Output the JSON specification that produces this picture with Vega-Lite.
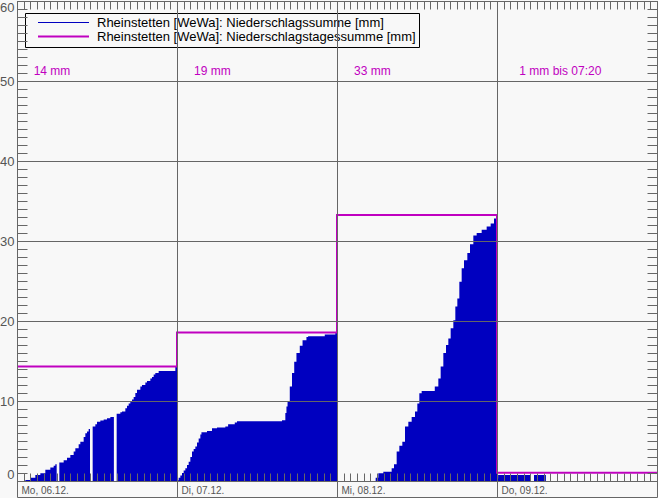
{
  "$schema": "https://vega.github.io/schema/vega-lite/v6.json",
  "width": 640,
  "height": 480,
  "autosize": {"type": "none"},
  "padding": {"left": 17, "top": 1, "right": 1, "bottom": 17},
  "background": "#f8f8f8",
  "config": {
    "view": {"stroke": "#666666", "strokeWidth": 1, "fill": "#f8f8f8"},
    "axis": {"domainColor": "#666666", "tickColor": "#666666", "gridColor": "#666666", "gridOpacity": 1, "gridWidth": 1, "tickWidth": 1, "domainWidth": 1, "title": null, "labelFont": "Liberation Sans", "labelColor": "#555555"},
    "text": {"font": "Liberation Sans"}
  },
  "datasets": {
    "rain": [
      {"t": "2021-12-06T00:00:00Z", "v": 0},
      {"t": "2021-12-06T01:15:00Z", "v": 0.12},
      {"t": "2021-12-06T02:00:00Z", "v": 0.42},
      {"t": "2021-12-06T02:45:00Z", "v": 0.75},
      {"t": "2021-12-06T03:30:00Z", "v": 0.96},
      {"t": "2021-12-06T04:15:00Z", "v": 1.4},
      {"t": "2021-12-06T05:00:00Z", "v": 1.7},
      {"t": "2021-12-06T05:30:00Z", "v": 1.9},
      {"t": "2021-12-06T05:45:00Z", "v": 2.1},
      {"t": "2021-12-06T05:57:00Z", "v": 2.1},
      {"t": "2021-12-06T05:58:00Z", "v": null},
      {"t": "2021-12-06T06:21:00Z", "v": 2.3},
      {"t": "2021-12-06T07:00:00Z", "v": 2.6},
      {"t": "2021-12-06T07:30:00Z", "v": 2.9},
      {"t": "2021-12-06T08:00:00Z", "v": 3.25},
      {"t": "2021-12-06T08:30:00Z", "v": 3.7},
      {"t": "2021-12-06T08:45:00Z", "v": 4.1},
      {"t": "2021-12-06T09:15:00Z", "v": 4.6},
      {"t": "2021-12-06T09:30:00Z", "v": 4.9},
      {"t": "2021-12-06T10:00:00Z", "v": 5.5},
      {"t": "2021-12-06T10:15:00Z", "v": 5.96},
      {"t": "2021-12-06T10:30:00Z", "v": 6.2},
      {"t": "2021-12-06T10:45:00Z", "v": 6.5},
      {"t": "2021-12-06T10:57:00Z", "v": 6.5},
      {"t": "2021-12-06T10:58:00Z", "v": null},
      {"t": "2021-12-06T11:21:00Z", "v": 6.8},
      {"t": "2021-12-06T11:45:00Z", "v": 7.1},
      {"t": "2021-12-06T12:00:00Z", "v": 7.4},
      {"t": "2021-12-06T12:30:00Z", "v": 7.55},
      {"t": "2021-12-06T13:00:00Z", "v": 7.7},
      {"t": "2021-12-06T13:30:00Z", "v": 7.85},
      {"t": "2021-12-06T14:00:00Z", "v": 8.0},
      {"t": "2021-12-06T14:32:00Z", "v": 8.1},
      {"t": "2021-12-06T14:33:00Z", "v": null},
      {"t": "2021-12-06T14:57:00Z", "v": 8.4},
      {"t": "2021-12-06T15:30:00Z", "v": 8.6},
      {"t": "2021-12-06T15:45:00Z", "v": 8.7},
      {"t": "2021-12-06T16:15:00Z", "v": 9.1},
      {"t": "2021-12-06T16:30:00Z", "v": 9.4},
      {"t": "2021-12-06T16:45:00Z", "v": 9.7},
      {"t": "2021-12-06T17:00:00Z", "v": 9.9},
      {"t": "2021-12-06T17:15:00Z", "v": 10.2},
      {"t": "2021-12-06T17:30:00Z", "v": 10.5},
      {"t": "2021-12-06T17:45:00Z", "v": 11.0},
      {"t": "2021-12-06T18:00:00Z", "v": 11.4},
      {"t": "2021-12-06T18:30:00Z", "v": 11.8},
      {"t": "2021-12-06T18:45:00Z", "v": 12.0},
      {"t": "2021-12-06T19:15:00Z", "v": 12.3},
      {"t": "2021-12-06T19:30:00Z", "v": 12.5},
      {"t": "2021-12-06T20:00:00Z", "v": 12.8},
      {"t": "2021-12-06T20:15:00Z", "v": 13.0},
      {"t": "2021-12-06T20:30:00Z", "v": 13.3},
      {"t": "2021-12-06T20:45:00Z", "v": 13.5},
      {"t": "2021-12-06T21:15:00Z", "v": 13.75},
      {"t": "2021-12-06T23:45:00Z", "v": 14.3},
      {"t": "2021-12-06T23:59:00Z", "v": 14.3},
      {"t": "2021-12-07T00:00:00Z", "v": 0.1},
      {"t": "2021-12-07T00:15:00Z", "v": 0.4},
      {"t": "2021-12-07T00:30:00Z", "v": 0.7},
      {"t": "2021-12-07T00:45:00Z", "v": 1.0},
      {"t": "2021-12-07T01:00:00Z", "v": 1.3},
      {"t": "2021-12-07T01:15:00Z", "v": 1.6},
      {"t": "2021-12-07T01:30:00Z", "v": 2.0},
      {"t": "2021-12-07T01:45:00Z", "v": 2.4},
      {"t": "2021-12-07T02:00:00Z", "v": 3.0},
      {"t": "2021-12-07T02:15:00Z", "v": 3.7},
      {"t": "2021-12-07T02:30:00Z", "v": 4.0},
      {"t": "2021-12-07T02:45:00Z", "v": 4.3},
      {"t": "2021-12-07T03:00:00Z", "v": 4.8},
      {"t": "2021-12-07T03:15:00Z", "v": 5.3},
      {"t": "2021-12-07T03:30:00Z", "v": 5.8},
      {"t": "2021-12-07T03:40:00Z", "v": 6.1},
      {"t": "2021-12-07T04:30:00Z", "v": 6.25},
      {"t": "2021-12-07T05:15:00Z", "v": 6.6},
      {"t": "2021-12-07T06:00:00Z", "v": 6.7},
      {"t": "2021-12-07T07:15:00Z", "v": 6.8},
      {"t": "2021-12-07T07:40:00Z", "v": 7.1},
      {"t": "2021-12-07T08:40:00Z", "v": 7.3},
      {"t": "2021-12-07T09:00:00Z", "v": 7.46},
      {"t": "2021-12-07T15:45:00Z", "v": 7.6},
      {"t": "2021-12-07T16:15:00Z", "v": 8.5},
      {"t": "2021-12-07T16:25:00Z", "v": 9.3},
      {"t": "2021-12-07T16:35:00Z", "v": 10.0},
      {"t": "2021-12-07T16:55:00Z", "v": 11.8},
      {"t": "2021-12-07T17:15:00Z", "v": 13.5},
      {"t": "2021-12-07T17:35:00Z", "v": 14.9},
      {"t": "2021-12-07T17:55:00Z", "v": 16.0},
      {"t": "2021-12-07T18:25:00Z", "v": 16.9},
      {"t": "2021-12-07T18:50:00Z", "v": 17.6},
      {"t": "2021-12-07T19:25:00Z", "v": 18.0},
      {"t": "2021-12-07T19:40:00Z", "v": 18.1},
      {"t": "2021-12-07T22:10:00Z", "v": 18.3},
      {"t": "2021-12-07T23:45:00Z", "v": 18.5},
      {"t": "2021-12-07T23:59:00Z", "v": 18.5},
      {"t": "2021-12-08T00:00:00Z", "v": 0},
      {"t": "2021-12-08T05:48:00Z", "v": 0.42},
      {"t": "2021-12-08T06:12:00Z", "v": 0.96},
      {"t": "2021-12-08T06:57:00Z", "v": 1.17},
      {"t": "2021-12-08T08:12:00Z", "v": 1.6},
      {"t": "2021-12-08T08:33:00Z", "v": 2.1},
      {"t": "2021-12-08T08:57:00Z", "v": 3.7},
      {"t": "2021-12-08T09:21:00Z", "v": 4.4},
      {"t": "2021-12-08T09:48:00Z", "v": 4.9},
      {"t": "2021-12-08T10:12:00Z", "v": 6.8},
      {"t": "2021-12-08T10:42:00Z", "v": 7.4},
      {"t": "2021-12-08T11:12:00Z", "v": 8.0},
      {"t": "2021-12-08T11:42:00Z", "v": 8.7},
      {"t": "2021-12-08T12:03:00Z", "v": 9.7},
      {"t": "2021-12-08T12:21:00Z", "v": 10.96},
      {"t": "2021-12-08T12:42:00Z", "v": 11.25},
      {"t": "2021-12-08T14:40:00Z", "v": 11.8},
      {"t": "2021-12-08T15:12:00Z", "v": 12.8},
      {"t": "2021-12-08T15:33:00Z", "v": 14.3},
      {"t": "2021-12-08T15:57:00Z", "v": 16.0},
      {"t": "2021-12-08T16:21:00Z", "v": 17.0},
      {"t": "2021-12-08T16:42:00Z", "v": 17.8},
      {"t": "2021-12-08T17:03:00Z", "v": 19.1},
      {"t": "2021-12-08T17:27:00Z", "v": 20.1},
      {"t": "2021-12-08T17:45:00Z", "v": 21.8},
      {"t": "2021-12-08T18:03:00Z", "v": 22.8},
      {"t": "2021-12-08T18:21:00Z", "v": 24.9},
      {"t": "2021-12-08T18:42:00Z", "v": 26.6},
      {"t": "2021-12-08T19:03:00Z", "v": 27.6},
      {"t": "2021-12-08T19:33:00Z", "v": 28.5},
      {"t": "2021-12-08T19:57:00Z", "v": 29.6},
      {"t": "2021-12-08T20:27:00Z", "v": 30.7},
      {"t": "2021-12-08T20:57:00Z", "v": 31.0},
      {"t": "2021-12-08T21:42:00Z", "v": 31.4},
      {"t": "2021-12-08T22:27:00Z", "v": 31.8},
      {"t": "2021-12-08T23:03:00Z", "v": 32.2},
      {"t": "2021-12-08T23:33:00Z", "v": 32.8},
      {"t": "2021-12-08T23:51:00Z", "v": 33.0},
      {"t": "2021-12-08T23:59:00Z", "v": 33.2},
      {"t": "2021-12-09T00:00:00Z", "v": 0.3},
      {"t": "2021-12-09T00:10:00Z", "v": 0.75},
      {"t": "2021-12-09T04:57:00Z", "v": 0.75},
      {"t": "2021-12-09T04:58:00Z", "v": null},
      {"t": "2021-12-09T05:33:00Z", "v": 0.75},
      {"t": "2021-12-09T07:20:00Z", "v": 0.75}
    ],
    "daily": [
      {"t": "2021-12-06T00:00:00Z", "v": 14.3},
      {"t": "2021-12-07T00:00:00Z", "v": 18.55},
      {"t": "2021-12-08T00:00:00Z", "v": 33.25},
      {"t": "2021-12-09T00:00:00Z", "v": 1.04},
      {"t": "2021-12-10T00:00:00Z", "v": 1.04}
    ],
    "notes": [
      {"t": "2021-12-06T02:30:00Z", "v": 51.3, "label": "14 mm"},
      {"t": "2021-12-07T02:33:00Z", "v": 51.3, "label": "19 mm"},
      {"t": "2021-12-08T02:33:00Z", "v": 51.3, "label": "33 mm"},
      {"t": "2021-12-09T03:21:00Z", "v": 51.3, "label": "1 mm bis 07:20"}
    ]
  },
  "resolve": {"axis": {"x": "independent", "y": "independent"}},
  "layer": [
    {
      "data": {"name": "rain"},
      "mark": {"type": "area", "interpolate": "step-after", "invalid": "break-paths-filter-domains"},
      "encoding": {
        "x": {"field": "t", "type": "temporal",
          "scale": {"type": "utc", "domain": [1638748800000, 1639094400000], "nice": false},
          "axis": {"orient": "bottom", "zindex": 1, "grid": true, "ticks": true, "tickSize": 16, "domain": false,
            "values": [1638748800000, 1638835200000, 1638921600000, 1639008000000, 1639094400000],
            "labelExpr": "utcdate(datum.value) == 10 ? '' : ['So','Mo','Di','Mi','Do','Fr','Sa'][utcday(datum.value)] + ', ' + utcFormat(datum.value, '%d.%m.')",
            "labelAlign": "left", "labelBaseline": "top", "labelPadding": -12, "labelOffset": 4, "labelFontSize": 10, "labelFlush": false, "labelOverlap": false, "labelBound": false}},
        "y": {"field": "v", "type": "quantitative",
          "scale": {"domain": [0, 60], "nice": false, "zero": true},
          "axis": {"orient": "left", "zindex": 1, "grid": true, "ticks": false, "domain": true, "values": [0, 10, 20, 30, 40, 50, 60], "labelFlush": true, "labelPadding": 3, "labelFontSize": 13, "labelOverlap": false}},
        "color": {"datum": "Rheinstetten [WeWa]: Niederschlagssumme [mm]", "type": "nominal",
          "scale": {"domain": ["Rheinstetten [WeWa]: Niederschlagssumme [mm]", "Rheinstetten [WeWa]: Niederschlagstagessumme [mm]"], "range": ["#0000c0", "#c000c0"]},
          "legend": {"orient": "none", "legendX": 8, "legendY": 12, "title": null, "direction": "vertical",
            "strokeColor": "#000000", "padding": 3,
            "symbolType": "M-5.1,0H5.1", "symbolSize": 100, "symbolStrokeWidth": 2, "symbolOffset": 29,
            "labelOffset": 27, "labelFont": "Liberation Sans", "labelFontSize": 13, "labelColor": "#000000", "labelLimit": 0, "rowPadding": -5,
            "encode": {"symbols": {"update": {"stroke": {"scale": "color", "field": "value"}, "fill": {"value": "transparent"}, "strokeWidth": {"signal": "datum.index ? 2 : 1"}}}}}}
      }
    },
    {
      "data": {"name": "daily"},
      "mark": {"type": "line", "interpolate": "step-after", "strokeWidth": 2},
      "encoding": {
        "x": {"field": "t", "type": "temporal",
          "axis": {"orient": "bottom", "zindex": 1, "grid": false, "domain": false, "labels": false, "ticks": true, "tickSize": -8,
            "values": [1638748800000,1638752400000,1638756000000,1638759600000,1638763200000,1638766800000,1638770400000,1638774000000,1638777600000,1638781200000,1638784800000,1638788400000,1638792000000,1638795600000,1638799200000,1638802800000,1638806400000,1638810000000,1638813600000,1638817200000,1638820800000,1638824400000,1638828000000,1638831600000,1638835200000,1638838800000,1638842400000,1638846000000,1638849600000,1638853200000,1638856800000,1638860400000,1638864000000,1638867600000,1638871200000,1638874800000,1638878400000,1638882000000,1638885600000,1638889200000,1638892800000,1638896400000,1638900000000,1638903600000,1638907200000,1638910800000,1638914400000,1638918000000,1638921600000,1638925200000,1638928800000,1638932400000,1638936000000,1638939600000,1638943200000,1638946800000,1638950400000,1638954000000,1638957600000,1638961200000,1638964800000,1638968400000,1638972000000,1638975600000,1638979200000,1638982800000,1638986400000,1638990000000,1638993600000,1638997200000,1639000800000,1639004400000,1639008000000,1639011600000,1639015200000,1639018800000,1639022400000,1639026000000,1639029600000,1639033200000,1639036800000,1639040400000,1639044000000,1639047600000,1639051200000,1639054800000,1639058400000,1639062000000,1639065600000,1639069200000,1639072800000,1639076400000,1639080000000,1639083600000,1639087200000,1639090800000,1639094400000]}},
        "y": {"field": "v", "type": "quantitative",
          "axis": {"orient": "left", "zindex": 1, "grid": false, "domain": false, "labels": false, "ticks": true, "tickSize": -10, "values": [0,1,2,3,4,5,6,7,8,9,10,11,12,13,14,15,16,17,18,19,20,21,22,23,24,25,26,27,28,29,30,31,32,33,34,35,36,37,38,39,40,41,42,43,44,45,46,47,48,49,50,51,52,53,54,55,56,57,58,59,60]}},
        "color": {"datum": "Rheinstetten [WeWa]: Niederschlagstagessumme [mm]", "type": "nominal"}
      }
    },
    {
      "data": {"name": "notes"},
      "mark": {"type": "text", "align": "left", "baseline": "middle", "fontSize": 12, "color": "#c000c0", "font": "Liberation Sans"},
      "encoding": {
        "x": {"field": "t", "type": "temporal",
          "axis": {"orient": "top", "zindex": 1, "grid": false, "domain": false, "labels": false, "ticks": true, "tickSize": -8,
            "values": [1638748800000,1638752400000,1638756000000,1638759600000,1638763200000,1638766800000,1638770400000,1638774000000,1638777600000,1638781200000,1638784800000,1638788400000,1638792000000,1638795600000,1638799200000,1638802800000,1638806400000,1638810000000,1638813600000,1638817200000,1638820800000,1638824400000,1638828000000,1638831600000,1638835200000,1638838800000,1638842400000,1638846000000,1638849600000,1638853200000,1638856800000,1638860400000,1638864000000,1638867600000,1638871200000,1638874800000,1638878400000,1638882000000,1638885600000,1638889200000,1638892800000,1638896400000,1638900000000,1638903600000,1638907200000,1638910800000,1638914400000,1638918000000,1638921600000,1638925200000,1638928800000,1638932400000,1638936000000,1638939600000,1638943200000,1638946800000,1638950400000,1638954000000,1638957600000,1638961200000,1638964800000,1638968400000,1638972000000,1638975600000,1638979200000,1638982800000,1638986400000,1638990000000,1638993600000,1638997200000,1639000800000,1639004400000,1639008000000,1639011600000,1639015200000,1639018800000,1639022400000,1639026000000,1639029600000,1639033200000,1639036800000,1639040400000,1639044000000,1639047600000,1639051200000,1639054800000,1639058400000,1639062000000,1639065600000,1639069200000,1639072800000,1639076400000,1639080000000,1639083600000,1639087200000,1639090800000,1639094400000]}},
        "y": {"field": "v", "type": "quantitative",
          "axis": {"orient": "right", "zindex": 1, "grid": false, "domain": false, "labels": false, "ticks": true, "tickSize": -10, "values": [0,1,2,3,4,5,6,7,8,9,10,11,12,13,14,15,16,17,18,19,20,21,22,23,24,25,26,27,28,29,30,31,32,33,34,35,36,37,38,39,40,41,42,43,44,45,46,47,48,49,50,51,52,53,54,55,56,57,58,59,60]}},
        "text": {"field": "label"}
      }
    },
    {
      "data": {"name": "daily"},
      "mark": {"type": "line", "opacity": 0},
      "encoding": {
        "x": {"field": "t", "type": "temporal",
          "axis": {"orient": "bottom", "offset": 16, "zindex": 1, "grid": false, "domain": true, "labels": false, "ticks": false}},
        "y": {"field": "v", "type": "quantitative", "axis": null}
      }
    }
  ]
}
